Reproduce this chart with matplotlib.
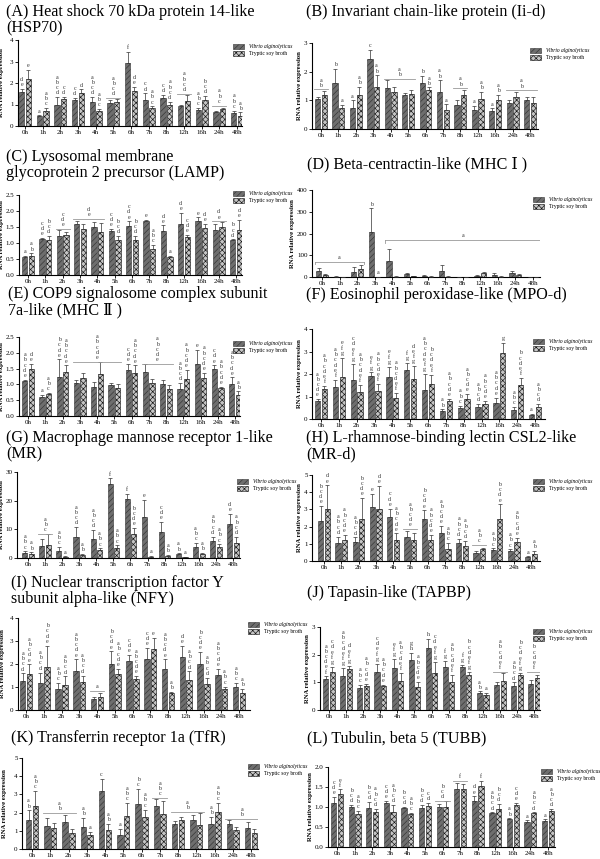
import numpy as np
import matplotlib
matplotlib.use("Agg")
import matplotlib.pyplot as plt
from matplotlib.patches import Patch

plt.rcParams['font.family'] = ['Liberation Serif', 'DejaVu Serif']
plt.rcParams['hatch.linewidth'] = 0.45

times = ["0h", "1h", "2h", "3h", "4h", "5h", "6h", "7h", "8h", "12h", "16h", "24h", "48h"]
series_names = ["Vibrio alginolyticus", "Tryptic soy broth"]

# ---------------- (A) HSP70 ----------------
A_title = "(A) Heat shock 70 kDa protein 14-like\n(HSP70)"
A_v = [1.58, 0.45, 1.0, 1.2, 1.1, 1.07, 2.95, 1.22, 1.3, 0.92, 0.75, 0.65, 0.62]
A_v_err = [0.15, 0.05, 0.35, 0.1, 0.25, 0.15, 0.5, 0.3, 0.15, 0.05, 0.1, 0.05, 0.1]
A_t = [2.2, 0.68, 1.25, 1.55, 0.7, 1.1, 1.62, 0.82, 0.98, 1.15, 1.2, 0.78, 0.48]
A_t_err = [0.4, 0.15, 0.1, 0.15, 0.1, 0.15, 0.2, 0.1, 0.15, 0.3, 0.2, 0.05, 0.15]
A_lv = ["d e", "a", "a b c d", "c d", "a b c d", "", "f", "c d", "c d", "", "a b c", "", "a b c"]
A_lt = ["e", "a b c", "c d", "d", "a b c", "", "d e", "a b c", "a b c d", "", "b c d", "", "a b"]
A_br = [(5, 5, 1.3, "a b c d"), (9, 9, 1.5, "a b c d"), (11, 11, 0.95, "a b c")]

# ---------------- (B) Ii-d ----------------
B_title = "(B) Invariant chain-like protein (Ii-d)"
B_v = [1.05, 1.6, 0.72, 2.45, 1.42, 1.17, 1.6, 1.3, 0.82, 0.65, 0.62, 0.9, 1.02]
B_v_err = [0.08, 0.5, 0.28, 0.32, 0.28, 0.1, 0.25, 0.4, 0.18, 0.15, 0.1, 0.12, 0.08]
B_t = [1.2, 0.75, 1.2, 1.45, 1.28, 1.22, 1.35, 0.68, 1.18, 1.05, 1.0, 1.1, 0.92]
B_t_err = [0.13, 0.1, 0.28, 0.42, 0.2, 0.15, 0.1, 0.18, 0.18, 0.25, 0.18, 0.2, 0.18]
B_lv = ["", "b", "a", "c", "", "", "b", "a b", "", "a", "a", "", ""]
B_lt = ["", "a", "a b", "a b", "", "", "a b", "a", "", "a b", "a b", "", ""]
B_br = [(0, 0, 1.38, "a b"), (4, 5, 1.75, "a b"), (8, 8, 1.42, "a b"), (11, 12, 1.35, "a b")]

# ---------------- (C) LAMP ----------------
C_title = "(C) Lysosomal membrane\nglycoprotein 2 precursor (LAMP)"
C_v = [0.55, 1.12, 1.22, 1.6, 1.5, 1.38, 1.53, 1.68, 1.38, 1.6, 1.7, 1.42, 1.08]
C_v_err = [0.05, 0.05, 0.2, 0.08, 0.15, 0.07, 0.15, 0.05, 0.17, 0.35, 0.1, 0.17, 0.03]
C_t = [0.6, 1.1, 1.25, 1.43, 1.35, 1.08, 1.1, 0.82, 0.55, 1.18, 1.48, 1.5, 1.4]
C_t_err = [0.08, 0.12, 0.1, 0.15, 0.27, 0.15, 0.13, 0.12, 0.05, 0.07, 0.12, 0.15, 0.33]
C_lv = ["a", "c d e", "", "", "", "c d e", "c d e", "e", "d e", "d e", "e", "", "b c d"]
C_lt = ["a b", "b c d", "", "", "", "b c d", "b c d", "a b c", "a", "c d e", "d e", "", "d e"]
C_br = [(2, 2, 1.45, "c d e"), (3, 4, 1.75, "d e"), (11, 11, 1.68, "d e")]

# ---------------- (D) MHC I ----------------
D_title = "(D) Beta-centractin-like (MHC \u2160 )"
D_v = [28, 2, 22, 205, 75, 12, 5, 28, 1, 5, 10, 18, 1]
D_v_err = [12, 1, 22, 110, 55, 5, 2, 25, 1, 3, 8, 10, 1]
D_t = [8, 1, 37, 1, 2, 3, 2, 2, 1, 18, 2, 8, 1]
D_t_err = [4, 1, 20, 1, 1, 2, 1, 1, 1, 7, 1, 5, 1]
D_lv = ["", "", "", "b", "", "", "", "", "", "", "", "", ""]
D_lt = ["", "", "", "a", "", "", "", "", "", "", "", "", ""]
D_br = [(0, 2, 70, "a"), (4, 12, 170, "a")]

# ---------------- (E) MHC II ----------------
E_title = "(E) COP9 signalosome complex subunit\n7a-like (MHC \u2161 )"
E_v = [1.1, 0.6, 1.22, 1.05, 0.93, 0.97, 1.45, 1.38, 1.02, 0.85, 1.65, 1.48, 1.02]
E_v_err = [0.05, 0.07, 0.57, 0.08, 0.15, 0.08, 0.2, 0.25, 0.13, 0.2, 0.45, 0.13, 0.2]
E_t = [1.5, 0.7, 1.4, 1.2, 1.32, 0.9, 1.35, 1.05, 0.87, 1.18, 1.2, 0.88, 0.65]
E_t_err = [0.15, 0.04, 0.2, 0.17, 0.38, 0.12, 0.25, 0.13, 0.12, 0.28, 0.17, 0.05, 0.13]
E_lv = ["a b c d e", "a", "b c d e", "", "", "", "c d e", "", "", "a b c d", "e", "c d e", "a b c d e"]
E_lt = ["d e", "a b c", "a b c d e", "", "", "", "a b c d e", "", "", "a b c d e", "a b c d e", "a b c d e", "a b"]
E_br = [(3, 5, 1.72, "a b c d e"), (7, 8, 1.65, "a b c d e")]

# ---------------- (F) MPO-d ----------------
F_title = "(F) Eosinophil peroxidase-like (MPO-d)"
F_v = [0.78, 1.42, 1.75, 1.92, 1.88, 2.2, 1.3, 0.35, 0.5, 0.52, 0.7, 0.42, 0.18]
F_v_err = [0.1, 0.32, 0.7, 0.15, 0.45, 0.3, 0.7, 0.08, 0.1, 0.15, 0.25, 0.12, 0.04]
F_t = [1.35, 1.85, 1.22, 1.25, 0.95, 1.8, 1.55, 0.78, 0.88, 0.68, 2.92, 1.52, 0.55]
F_t_err = [0.12, 0.88, 0.3, 0.3, 0.2, 0.55, 0.42, 0.12, 0.22, 0.12, 0.45, 0.3, 0.12]
F_lv = ["a b c d e", "a b c d e f", "c d e f g", "e f g", "e f g", "f g", "a b c d e f g",
        "a b", "a b c", "a b c d", "a b c d e", "a b c", "a"]
F_lt = ["a b c d e f", "e f g", "a b c d e f", "a b c d e f", "a b c d e f", "d e f g", "b c d e f",
        "a b c d e", "a b c d e", "a b c d e", "g", "b c d e f", "a b c d"]
F_br = []

# ---------------- (G) MR ----------------
G_title = "(G) Macrophage mannose receptor 1-like\n(MR)"
G_v = [1.8, 4.3, 2.3, 7.3, 6.8, 25.8, 20.5, 14.2, 9.0, 1.3, 3.8, 6.0, 11.8]
G_v_err = [0.5, 2.5, 1.5, 3.5, 3.0, 2.0, 2.0, 6.0, 3.5, 0.3, 1.5, 1.5, 3.5]
G_t = [1.5, 4.5, 0.4, 1.2, 2.7, 3.4, 8.2, 0.5, 0.8, 0.3, 1.5, 3.8, 5.2]
G_t_err = [0.5, 3.8, 0.2, 0.3, 0.7, 1.0, 2.3, 0.2, 0.2, 0.1, 0.3, 1.0, 2.2]
G_lv = ["a b c", "", "a b c", "a b c d", "a b c d", "f", "f", "e", "c d e", "a b", "a b c", "a b c d", "d e"]
G_lt = ["a b", "", "a", "a b", "a b c", "a b c", "b c d e", "a", "a b", "a", "a b", "a b c", "a b c d"]
G_br = [(1, 1, 8.5, "a b c")]

# ---------------- (H) MR-d ----------------
H_title = "(H) L-rhamnose-binding lectin CSL2-like\n(MR-d)"
H_v = [2.35, 1.02, 1.1, 3.15, 2.55, 1.42, 2.45, 1.65, 1.05, 0.48, 0.65, 0.58, 0.22]
H_v_err = [0.85, 0.4, 0.28, 0.75, 0.5, 0.3, 0.5, 0.38, 0.25, 0.08, 0.08, 0.1, 0.05]
H_t = [3.05, 1.22, 2.42, 3.0, 1.2, 1.22, 1.22, 0.7, 0.88, 0.68, 2.45, 1.1, 0.42]
H_t_err = [1.35, 0.3, 1.25, 1.35, 0.4, 0.38, 0.3, 0.35, 0.3, 0.1, 0.85, 0.25, 0.15]
H_lv = ["b c d e", "a b c d", "a b c d", "e", "c d e", "", "b c d e", "a b c d e", "a b c d", "", "a b c", "a b c", "a"]
H_lt = ["d e", "a b c d e", "b c d e", "d e", "a b c d e", "", "a b c d e", "a b c", "a b c d", "", "b c d e", "a b c d e", "a b"]
H_br = [(5, 5, 1.85, "a b c d e"), (9, 9, 0.92, "a b c")]

# ---------------- (I) NFY ----------------
I_title = "(I) Nuclear transcription factor Y\nsubunit alpha-like (NFY)"
I_v = [1.27, 1.18, 0.9, 1.7, 0.48, 2.0, 2.12, 2.2, 1.8, 2.32, 2.02, 1.52, 1.0]
I_v_err = [0.32, 0.45, 0.28, 0.5, 0.08, 0.55, 0.28, 0.5, 0.4, 0.45, 0.5, 0.28, 0.18]
I_t = [1.58, 1.88, 1.08, 1.22, 0.55, 1.57, 1.35, 2.65, 0.75, 1.3, 1.13, 0.92, 0.75]
I_t_err = [0.4, 0.92, 0.38, 0.28, 0.2, 0.22, 0.12, 0.5, 0.05, 0.38, 0.28, 0.1, 0.17]
I_lv = ["a b c d", "a b c d", "a b c", "a b c d e", "", "b c d e", "c d e", "c d e", "a b c d e", "d e", "b c d e", "a b c d e", "a b c"]
I_lt = ["a b c d e", "b c d e", "a b c d", "a b c d", "", "a b c d e", "a b c d e", "e", "a b", "a b c d", "a b c d", "a b c", "a b"]
I_br = [(4, 4, 0.82, "a")]

# ---------------- (J) TAPBP ----------------
J_title = "(J) Tapasin-like (TAPBP)"
J_v = [1.12, 1.22, 0.8, 1.38, 1.52, 1.82, 2.25, 1.55, 1.55, 0.62, 0.9, 0.85, 0.95]
J_v_err = [0.1, 0.3, 0.12, 0.3, 0.32, 0.25, 0.32, 0.22, 0.08, 0.05, 0.1, 0.15, 0.15]
J_t = [1.37, 1.5, 0.85, 0.85, 1.05, 0.82, 1.35, 1.02, 1.27, 0.55, 1.05, 1.27, 1.15]
J_t_err = [0.2, 0.1, 0.1, 0.07, 0.3, 0.2, 0.4, 0.25, 0.1, 0.07, 0.28, 0.08, 0.12]
J_lv = ["a b c d e f", "a b c d e f g", "a b c", "c d e f g", "e f g", "g h", "h", "f g", "f g", "a b", "", "a b c d", ""]
J_lt = ["c d e f g", "d e f g", "a b c d e", "a b c d e", "a b c d e f", "a b c d e", "c d e f g", "a b c d e f",
        "b c d e f g", "a", "", "b c d e f g", ""]
J_br = [(10, 10, 1.38, "a b c d e f"), (12, 12, 1.38, "b c d e f")]

# ---------------- (K) TfR ----------------
K_title = "(K) Transferrin receptor 1a (TfR)"
K_v = [1.62, 1.28, 1.5, 1.22, 3.2, 0.75, 2.45, 2.35, 1.4, 1.58, 1.4, 1.4, 1.15]
K_v_err = [0.5, 0.45, 0.38, 0.5, 0.65, 0.35, 0.85, 0.4, 0.15, 0.3, 0.35, 0.2, 0.35]
K_t = [2.35, 1.13, 0.88, 0.75, 1.07, 1.83, 1.75, 1.9, 1.6, 1.3, 2.05, 1.07, 0.88]
K_t_err = [0.82, 0.3, 0.22, 0.2, 0.3, 0.7, 0.42, 0.72, 0.15, 0.7, 0.5, 0.15, 0.22]
K_lv = ["a b", "", "", "a b", "c", "a", "b c", "", "", "", "a b", "", ""]
K_lt = ["a b c", "", "", "a", "a b", "a b c", "a b c", "", "", "", "a b c", "", ""]
K_br = [(1, 2, 2.0, "a b"), (7, 7, 2.8, "a b c"), (8, 9, 2.05, "a b"), (11, 12, 1.65, "a b")]

# ---------------- (L) TUBB ----------------
L_title = "(L) Tubulin, beta 5 (TUBB)"
L_v = [1.1, 1.0, 0.98, 1.1, 0.98, 0.98, 1.0, 1.45, 1.15, 0.85, 0.7, 0.62, 0.64]
L_v_err = [0.15, 0.05, 0.15, 0.05, 0.03, 0.07, 0.08, 0.15, 0.12, 0.02, 0.02, 0.05, 0.05]
L_t = [1.32, 0.83, 0.88, 0.88, 0.83, 1.02, 1.0, 1.45, 1.52, 0.95, 1.05, 0.85, 0.9]
L_t_err = [0.12, 0.07, 0.08, 0.17, 0.03, 0.08, 0.15, 0.12, 0.13, 0.13, 0.05, 0.02, 0.05]
L_lv = ["c d e", "b c d", "b c d", "c d e", "b c d", "b c d", "", "", "d e", "a b c d", "a b", "a", "a"]
L_lt = ["e f", "a b c", "a b c d", "a b c d", "a b c", "c d", "", "", "f", "b c d", "c d e", "a b c d", "a b c d"]
L_br = [(6, 6, 1.15, "b c d"), (7, 7, 1.65, "f")]

W, H = 600, 859
fig = plt.figure(figsize=(6.0, 8.59), dpi=100)

V_FACE, V_EDGE = '#6e6e6e', '#333333'
T_FACE, T_EDGE = '#c4c4c4', '#111111'

def panel(title, tpos, geom, yticks, yfmt, v, ve, t, te, lv, lt, br, legpos, ylab_x, brticks=False):
    left, right, top, bottom, c0, c12 = geom
    ax = fig.add_axes([left / W, 1 - bottom / H, (right - left) / W, (bottom - top) / H])
    s = (c12 - c0) / 12.0
    ax.set_xlim((left - c0) / s, 12 + (right - c12) / s)
    ymax = yticks[-1]
    ax.set_ylim(0, ymax)
    x = np.arange(len(times))
    off, bw = 0.19, 0.3
    ax.bar(x - off, v, bw, color=V_FACE, edgecolor=V_EDGE, hatch='//////', linewidth=0.4, zorder=2)
    ax.bar(x + off, t, bw, color=T_FACE, edgecolor=T_EDGE, hatch='xxxxxx', linewidth=0.4, zorder=2)
    z = np.zeros(len(times))
    ax.errorbar(x - off, v, yerr=[z, ve], fmt='none', ecolor='#333333', elinewidth=0.5, capsize=1.2, capthick=0.5, zorder=3)
    ax.errorbar(x + off, t, yerr=[z, te], fmt='none', ecolor='#333333', elinewidth=0.5, capsize=1.2, capthick=0.5, zorder=3)
    pad = ymax * 0.02
    for i in range(len(times)):
        if lv[i]:
            ax.text(x[i] - off, v[i] + ve[i] + pad, lv[i].replace(' ', '\n'), ha='center', va='bottom',
                    fontsize=4.3, linespacing=1.05, color='#333333')
        if lt[i]:
            ax.text(x[i] + off, t[i] + te[i] + pad, lt[i].replace(' ', '\n'), ha='center', va='bottom',
                    fontsize=4.3, linespacing=1.05, color='#333333')
    for g0, g1, yb, txt in br:
        x0, x1 = g0 - 0.4, g1 + 0.4
        ax.plot([x0, x1], [yb, yb], color='#999999', lw=0.6, zorder=3)
        if brticks:
            ax.plot([x0, x0], [yb, yb - ymax * 0.03], color='#999999', lw=0.6)
            ax.plot([x1, x1], [yb, yb - ymax * 0.03], color='#999999', lw=0.6)
        ax.text((x0 + x1) / 2, yb + pad, txt.replace(' ', '\n'), ha='center', va='bottom',
                fontsize=4.3, linespacing=1.05, color='#333333')
    ax.set_xticks(x)
    ax.set_xticklabels(times, fontsize=5)
    ax.set_yticks(yticks)
    ax.set_yticklabels([yfmt.format(y) for y in yticks], fontsize=5)
    ax.tick_params(length=2, width=0.6, pad=1.2)
    for sp in ['top', 'right']:
        ax.spines[sp].set_visible(False)
    for sp in ['left', 'bottom']:
        ax.spines[sp].set_linewidth(0.8)
    ax.set_ylabel("RNA relative expression", fontsize=4.8, fontweight='bold')
    ax.yaxis.set_label_coords((ylab_x - left) / (right - left), 0.5)
    fig.text(tpos[0] / W, 1 - tpos[1] / H, title, fontsize=11.6, va='top', ha='left', linespacing=1.0)
    handles = [Patch(facecolor=V_FACE, edgecolor=V_EDGE, hatch='//////', linewidth=0.4),
               Patch(facecolor=T_FACE, edgecolor=T_EDGE, hatch='xxxxxx', linewidth=0.4)]
    leg = fig.legend(handles, series_names, loc='upper left',
                     bbox_to_anchor=(legpos[0] / W, 1 - legpos[1] / H), frameon=False,
                     fontsize=4, handlelength=2.0, handleheight=0.9, handletextpad=0.8,
                     labelspacing=0.3, borderpad=0, borderaxespad=0)
    leg.get_texts()[0].set_fontstyle('italic')
    return ax

panel(A_title, (6, 4), (18, 242, 40, 126, 25, 237), [0, 1, 2, 3, 4], "{:.0f}",
      A_v, A_v_err, A_t, A_t_err, A_lv, A_lt, A_br, (233, 44), 4)
panel(B_title, (306, 4), (312, 538, 43, 129, 321, 530), [0, 1, 2, 3], "{:.0f}",
      B_v, B_v_err, B_t, B_t_err, B_lv, B_lt, B_br, (530, 48), 302)
panel(C_title, (6, 149), (19, 242, 195, 275, 28, 236), [0, 0.5, 1.0, 1.5, 2.0, 2.5], "{:.1f}",
      C_v, C_v_err, C_t, C_t_err, C_lv, C_lt, C_br, (233, 191), 4)
panel(D_title, (307, 156), (312, 540, 190, 277, 322, 533), [0, 100, 200, 300, 400], "{:.0f}",
      D_v, D_v_err, D_t, D_t_err, D_lv, D_lt, D_br, (533, 197), 295, brticks=True)
panel(E_title, (8, 286), (19, 240, 337, 416, 28, 235), [0, 0.5, 1.0, 1.5, 2.0, 2.5], "{:.1f}",
      E_v, E_v_err, E_t, E_t_err, E_lv, E_lt, E_br, (233, 341), 4)
panel(F_title, (306, 287), (312, 545, 329, 419, 321, 535), [0, 1, 2, 3, 4], "{:.0f}",
      F_v, F_v_err, F_t, F_t_err, F_lv, F_lt, F_br, (533, 339), 302)
panel(G_title, (6, 430), (17, 240, 472, 558, 28, 233), [0, 10, 20, 30], "{:.0f}",
      G_v, G_v_err, G_t, G_t_err, G_lv, G_lt, G_br, (237, 479), 4)
panel(H_title, (306, 430), (312, 540, 475, 561, 324, 531), [0, 1, 2, 3, 4, 5], "{:.0f}",
      H_v, H_v_err, H_t, H_t_err, H_lv, H_lt, H_br, (533, 479), 302)
panel(I_title, (11, 575), (18, 250, 618, 710, 26, 239), [0, 1, 2, 3, 4], "{:.0f}",
      I_v, I_v_err, I_t, I_t_err, I_lv, I_lt, I_br, (248, 622), 5)
panel(J_title, (307, 585), (320, 540, 627, 710, 329, 534), [0, 1, 2, 3], "{:.0f}",
      J_v, J_v_err, J_t, J_t_err, J_lv, J_lt, J_br, (533, 629), 310)
panel(K_title, (11, 730), (22, 258, 758, 849, 32, 251), [0, 1, 2, 3, 4, 5], "{:.0f}",
      K_v, K_v_err, K_t, K_t_err, K_lv, K_lt, K_br, (248, 764), 7)
panel(L_title, (307, 730), (328, 555, 767, 847, 337, 548), [0, 0.5, 1.0, 1.5, 2.0], "{:.1f}",
      L_v, L_v_err, L_t, L_t_err, L_lv, L_lt, L_br, (541, 769), 313)

fig.savefig("out.png", dpi=100)
